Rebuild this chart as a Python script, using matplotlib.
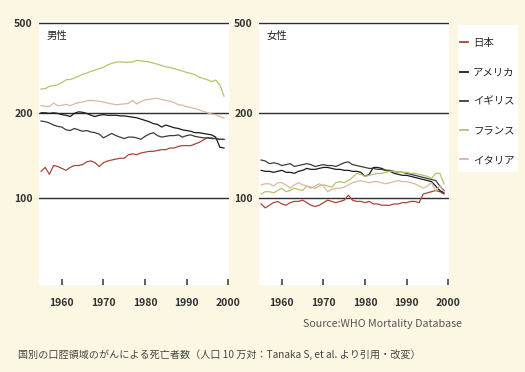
import numpy as np
import matplotlib
matplotlib.use("Agg")
from matplotlib import pyplot as plt
from matplotlib.patches import Rectangle
from matplotlib.ticker import FixedLocator, NullLocator

plt.rcParams['font.family'] = ['Noto Sans CJK JP', 'DejaVu Sans']

years = list(range(1955, 2000))
countries = ["日本", "アメリカ", "イギリス", "フランス", "イタリア"]
colors = ["#a8453a", "#1a1a1a", "#3c3c3c", "#b9c26a", "#dcb7a0"]

# 男性 (人口10万対)
male_japan = [124, 128, 121, 130, 129, 127, 125, 128, 130, 130,
              131, 134, 135, 133, 129, 133, 135, 136, 137, 138,
              138, 142, 143, 142, 144, 145, 146, 146, 147, 148,
              148, 150, 150, 152, 153, 153, 153, 155, 157, 160,
              163, 163, 162, 161, 161]
male_usa = [200, 200, 199, 200, 199, 197, 196, 194, 199, 202,
            201, 199, 196, 194, 196, 197, 196, 196, 196, 195,
            195, 194, 193, 192, 190, 188, 186, 183, 182, 178,
            181, 179, 177, 176, 174, 173, 172, 170, 170, 169,
            168, 167, 164, 151, 150]
male_uk = [187, 186, 184, 181, 179, 178, 174, 173, 176, 174,
           172, 173, 171, 170, 168, 163, 166, 169, 166, 164,
           162, 164, 164, 163, 161, 165, 168, 170, 166, 164,
           165, 166, 166, 167, 164, 166, 167, 165, 164, 163,
           163, 162, 162, 161, 161]
male_france = [255, 256, 262, 264, 266, 272, 280, 281, 285, 290,
               296, 300, 305, 309, 314, 318, 326, 331, 335, 336,
               335, 335, 336, 341, 340, 338, 336, 332, 328, 324,
               320, 317, 314, 310, 306, 302, 299, 295, 288, 284,
               280, 275, 279, 266, 237]
male_italy = [215, 214, 213, 221, 215, 216, 218, 215, 219, 222,
              223, 226, 227, 226, 225, 223, 221, 219, 217, 218,
              219, 220, 227, 219, 224, 228, 229, 231, 232, 229,
              227, 225, 222, 217, 216, 213, 211, 209, 206, 203,
              200, 198, 197, 194, 191]

# 女性 (人口10万対)
female_japan = [95, 92, 94, 96, 97, 95, 94, 96, 97, 97,
                98, 96, 94, 93, 94, 96, 98, 97, 96, 97,
                98, 102, 98, 97, 97, 96, 97, 95, 95, 94,
                94, 94, 95, 95, 96, 96, 97, 97, 96, 103,
                104, 105, 106, 105, 103]
female_usa = [125, 124, 124, 123, 124, 125, 123, 123, 122, 124,
              125, 127, 126, 126, 127, 128, 128, 127, 126, 126,
              125, 125, 124, 124, 123, 119, 121, 128, 128, 127,
              125, 124, 122, 121, 120, 120, 119, 118, 117, 116,
              115, 114, 110, 106, 104]
female_uk = [136, 135, 132, 133, 132, 130, 131, 132, 129, 130,
             131, 132, 131, 129, 130, 131, 130, 130, 129, 131,
             133, 134, 131, 130, 129, 128, 127, 127, 126, 126,
             125, 125, 124, 123, 123, 122, 121, 120, 119, 118,
             117, 116, 115, 110, 106]
female_france = [103, 105, 105, 104, 106, 108, 105, 106, 108, 107,
                 106, 110, 109, 108, 110, 111, 110, 109, 113, 114,
                 113, 115, 118, 122, 121, 119, 120, 121, 122, 122,
                 123, 124, 124, 123, 123, 123, 122, 122, 121, 120,
                 119, 117, 122, 122, 112]
female_italy = [111, 112, 112, 110, 113, 113, 111, 108, 111, 113,
                111, 110, 108, 110, 112, 110, 105, 107, 108, 108,
                109, 111, 113, 114, 115, 114, 113, 114, 114, 113,
                112, 113, 114, 115, 114, 114, 113, 112, 110, 108,
                110, 113, 106, 110, 105]

male_series = [male_japan, male_usa, male_uk, male_france, male_italy]
female_series = [female_japan, female_usa, female_uk, female_france, female_italy]
y_ticks = [100, 200, 500]
x_ticks = [1960, 1970, 1980, 1990, 2000]


# the printed axis is not a clean log axis: 100-200 and 200-500 get almost equal room
def fwd(v):
    v = np.clip(np.asarray(v, dtype=float), 1e-3, None)
    return np.where(v >= 200, 1 + np.log(v / 200) / np.log(2.5) * 90 / 85, np.log2(v / 100))


def inv(p):
    p = np.asarray(p, dtype=float)
    return np.where(p >= 1, 200 * 2.5 ** ((p - 1) * 85 / 90), 100 * 2.0 ** p)


bg = "#fbf7e3"
fig = plt.figure(figsize=(5.25, 3.72), dpi=100, facecolor=bg)
ax_m = fig.add_axes([39 / 525, 1 - 285 / 372, 190 / 525, 264 / 372])
ax_f = fig.add_axes([259 / 525, 1 - 285 / 372, 190 / 525, 264 / 372])

for ax, series, title in [(ax_m, male_series, "男性"), (ax_f, female_series, "女性")]:
    ax.set_facecolor("white")
    ax.set_yscale("function", functions=(fwd, inv))
    ax.set_ylim(49, 510)
    ax.set_xlim(1954.5, 2000.2)
    for v in y_ticks:
        ax.axhline(v, color="#2e2e2e", lw=1.0, zorder=1)
    for vals, c, name in zip(series, colors, countries):
        ax.plot(years, vals, color=c, lw=0.9, label=name, zorder=2)
    for s in ax.spines.values():
        s.set_visible(False)
    ax.yaxis.set_major_locator(FixedLocator(y_ticks))
    ax.yaxis.set_minor_locator(NullLocator())
    ax.set_yticklabels([str(v) for v in y_ticks])
    ax.set_xticks(x_ticks)
    ax.set_xticklabels([str(v) for v in x_ticks])
    ax.tick_params(axis="y", length=0, pad=4.5, labelsize=7.5, labelcolor="#333333")
    ax.tick_params(axis="x", direction="in", length=4.5, width=1.1, color="#333333",
                   pad=9, labelsize=7.5, labelcolor="#333333")
    for lab in ax.get_xticklabels() + ax.get_yticklabels():
        lab.set_fontweight("bold")
    ax.text(0.042, 0.943, title, transform=ax.transAxes, fontsize=7.5,
            va="center", ha="left", color="#222222")

# legend box
fig.add_artist(Rectangle((458 / 525, 1 - 172 / 372), 60 / 525, 147 / 372,
                         transform=fig.transFigure, facecolor="white",
                         edgecolor="none", zorder=0))
handles, labels = ax_f.get_legend_handles_labels()
leg = fig.legend(handles, labels, loc="upper left",
                 bbox_to_anchor=(460 / 525, 1 - 38 / 372), frameon=False,
                 fontsize=7.5, handlelength=0.75, handletextpad=0.5,
                 labelspacing=1.85, borderpad=0, borderaxespad=0)
for ln in leg.get_lines():
    ln.set_linewidth(1.3)
for t in leg.get_texts():
    t.set_color("#222222")

fig.text(303 / 525, 1 - 324 / 372, "Source:WHO Mortality Database",
         fontsize=7.7, color="#555555", va="center", ha="left")
fig.text(18 / 525, 1 - 355 / 372,
         "国別の口腔領域のがんによる死亡者数（人口 10 万対：Tanaka S, et al. より引用・改変）",
         fontsize=7.25, color="#444444", va="center", ha="left")

fig.savefig("out.png", dpi=100, facecolor=bg)
